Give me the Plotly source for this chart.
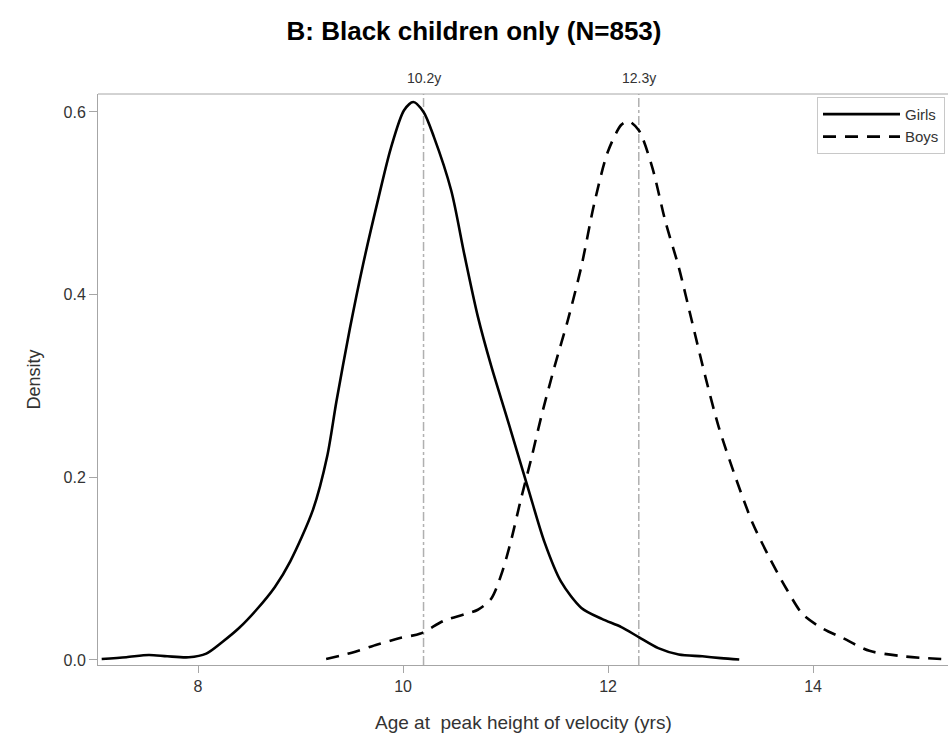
import plotly.graph_objects as go

# ---- data ----
girls_age = [7.06, 7.3, 7.52, 7.7, 7.91, 8.08, 8.24, 8.4, 8.57, 8.75, 8.9, 9.12, 9.26, 9.35,
             9.48, 9.61, 9.75, 9.88, 10.01, 10.1, 10.2, 10.3, 10.47, 10.6, 10.73, 10.86,
             11.02, 11.22, 11.38, 11.54, 11.74, 11.94, 12.13, 12.3, 12.49, 12.69, 12.92,
             13.1, 13.28]
girls_density = [0.001, 0.003, 0.0055, 0.004, 0.003, 0.007, 0.02, 0.035, 0.055, 0.08, 0.108,
                 0.164, 0.223, 0.283, 0.362, 0.433, 0.501, 0.560, 0.602, 0.611, 0.600, 0.573,
                 0.514, 0.443, 0.376, 0.322, 0.263, 0.188, 0.129, 0.086, 0.057, 0.045, 0.036,
                 0.025, 0.013, 0.006, 0.004, 0.002, 0.0005]

boys_age = [9.25, 9.5, 9.75, 9.97, 10.17, 10.4, 10.6, 10.73, 10.86, 10.96, 11.05, 11.15,
            11.25, 11.35, 11.48, 11.61, 11.74, 11.87, 12.0, 12.13, 12.2, 12.3, 12.43, 12.56,
            12.69, 12.82, 12.95, 13.08, 13.25, 13.41, 13.57, 13.74, 13.9, 14.1, 14.29, 14.55,
            14.88, 15.1, 15.34]
boys_density = [0.001, 0.008, 0.017, 0.024, 0.029, 0.043, 0.05, 0.055, 0.067, 0.094, 0.129,
                0.176, 0.220, 0.267, 0.322, 0.373, 0.431, 0.502, 0.557, 0.586, 0.590, 0.580,
                0.540, 0.480, 0.43, 0.37, 0.31, 0.255, 0.198, 0.15, 0.113, 0.078, 0.05, 0.034,
                0.024, 0.010, 0.004, 0.002, 0.0005]

ref_ages = [10.2, 12.3]
ref_labels = ["10.2y", "12.3y"]

x_ticks = [8, 10, 12, 14]
y_ticks = [0.0, 0.2, 0.4, 0.6]
y_tick_labels = ["0.0", "0.2", "0.4", "0.6"]

title_text = "B: Black children only (N=853)"
x_title = "Age at\u00a0 peak height of velocity (yrs)"
y_title = "Density"

FONT = "Liberation Sans Narrow, Liberation Sans, Arial, sans-serif"
TXT = "#333333"
FRAME = "#a6a6a6"

# The original graphic is cropped on its right edge: the canvas is drawn wider
# than the 948 px window so that the frame and legend are cut off the same way.
FIG_W = 1000
L, T, B = 98, 94, 75
plot_w = FIG_W - L
plot_h = 740 - T - B

fig = go.Figure()

fig.add_trace(go.Scatter(
    x=girls_age, y=girls_density, mode="lines", name="Girls",
    line=dict(color="black", width=2.6, dash="solid", shape="spline", smoothing=0.8),
))
fig.add_trace(go.Scatter(
    x=boys_age, y=boys_density, mode="lines", name="Boys",
    line=dict(color="black", width=2.6, dash="13px,9px", shape="spline", smoothing=0.8),
))

for age, lab in zip(ref_ages, ref_labels):
    fig.add_shape(type="line", xref="x", yref="paper", x0=age, x1=age, y0=0, y1=1,
                  line=dict(color="#b0b0b0", width=1.5, dash="dashdot"), layer="below")
    fig.add_annotation(x=age, xref="x", y=1, yref="paper", yanchor="bottom", yshift=6,
                       text=lab, showarrow=False, font=dict(family=FONT, size=14, color=TXT))

# top frame line (the right side of the frame is cropped off in the original)
fig.add_shape(type="line", xref="paper", yref="paper", x0=0, x1=1, y0=1, y1=1,
              line=dict(color=FRAME, width=1), layer="above")

# x-axis title centred on the visible part of the plot
fig.add_annotation(x=(523 - L) / plot_w, xref="paper", y=(740 - B - 722) / plot_h, yref="paper",
                   xanchor="center", yanchor="middle", text=x_title, showarrow=False,
                   font=dict(family=FONT, size=19, color=TXT))

fig.update_layout(
    width=FIG_W, height=740,
    margin=dict(l=L, r=0, t=T, b=B, autoexpand=False),
    paper_bgcolor="white", plot_bgcolor="white",
    title=dict(text=title_text, x=474 / FIG_W, xref="container", xanchor="center",
               y=0.958, yanchor="middle",
               font=dict(family="Liberation Sans, Arial, sans-serif", size=26, color="black",
                         weight="bold")),
    showlegend=True,
    legend=dict(x=(817 - L) / plot_w, y=0.995, xanchor="left", yanchor="top",
                bordercolor="#c8c8c8", borderwidth=1, bgcolor="white",
                font=dict(family=FONT, size=15, color=TXT),
                itemwidth=77, tracegroupgap=0),
    font=dict(family=FONT, color=TXT),
)

x_min = 7.024
px_per_year = 102.5
x_max = x_min + plot_w / px_per_year

fig.update_xaxes(
    range=[x_min, x_max], tickvals=x_ticks, ticktext=[str(v) for v in x_ticks],
    showgrid=False, zeroline=False, showline=True, linecolor=FRAME, linewidth=1,
    mirror=False, ticks="outside", ticklen=7, tickcolor=FRAME,
    tickfont=dict(family=FONT, size=16, color=TXT),
)
fig.update_yaxes(
    range=[-0.0055, 0.6197], tickvals=y_ticks, ticktext=y_tick_labels,
    showgrid=False, zeroline=False, showline=True, linecolor=FRAME, linewidth=1,
    mirror=False, ticks="outside", ticklen=8, tickcolor=FRAME,
    tickfont=dict(family=FONT, size=16, color=TXT),
    title=dict(text=y_title, font=dict(family=FONT, size=18, color=TXT), standoff=18),
)

fig.write_html("out.html", config={"displayModeBar": False},
               post_script="document.body.style.margin='0';document.body.style.overflow='hidden';"
                           "document.documentElement.style.overflow='hidden';")
